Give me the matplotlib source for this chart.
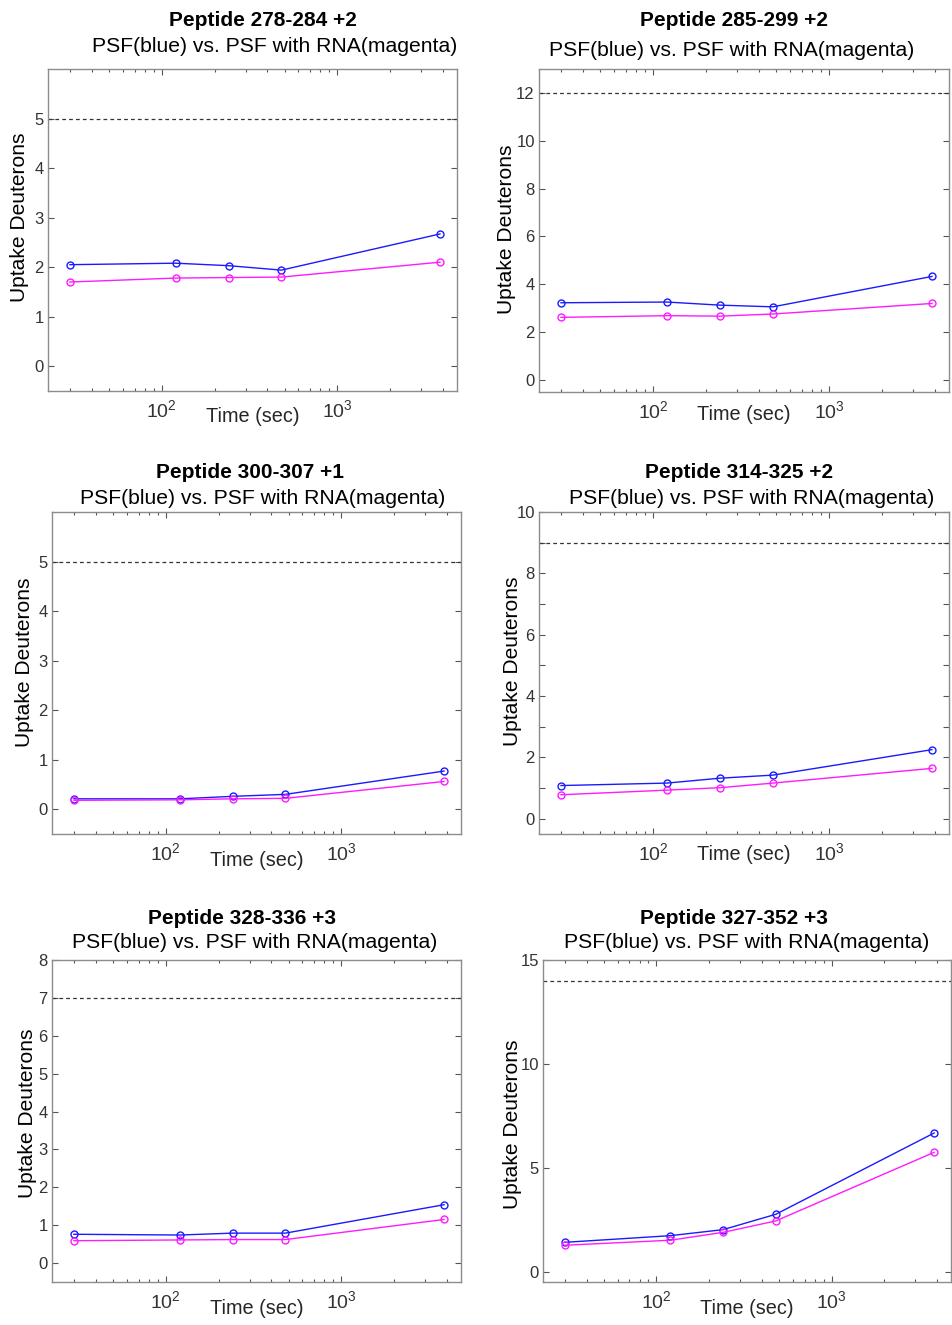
import numpy as np
import matplotlib.pyplot as plt
from matplotlib.ticker import LogLocator, NullFormatter, FixedLocator

plt.rcParams['font.family'] = ['Liberation Sans', 'DejaVu Sans']
plt.rcParams['mathtext.fontset'] = 'custom'
plt.rcParams['mathtext.rm'] = 'Liberation Sans'
plt.rcParams['mathtext.it'] = 'Liberation Sans:italic'
plt.rcParams['mathtext.bf'] = 'Liberation Sans:bold'

# exchange times (sec)
time_sec = [30, 120, 240, 480, 3840]

peptide_names = ['Peptide 278-284 +2', 'Peptide 285-299 +2',
                 'Peptide 300-307 +1', 'Peptide 314-325 +2',
                 'Peptide 328-336 +3', 'Peptide 327-352 +3']
max_deuterons = [5, 12, 5, 9, 7, 14]

psf_uptake = [
    [2.05, 2.08, 2.03, 1.94, 2.67],
    [3.23, 3.26, 3.13, 3.06, 4.33],
    [0.21, 0.21, 0.26, 0.30, 0.77],
    [1.08, 1.16, 1.32, 1.42, 2.25],
    [0.76, 0.74, 0.79, 0.79, 1.54],
    [1.41, 1.73, 2.02, 2.76, 6.67],
]
psf_rna_uptake = [
    [1.70, 1.78, 1.79, 1.80, 2.10],
    [2.62, 2.69, 2.67, 2.76, 3.20],
    [0.18, 0.19, 0.21, 0.22, 0.56],
    [0.78, 0.93, 1.01, 1.16, 1.64],
    [0.59, 0.61, 0.62, 0.62, 1.15],
    [1.27, 1.51, 1.89, 2.44, 5.74],
]

y_tops = [6, 13, 6, 10, 8, 15]
y_ticks = [list(range(0, 6)), list(range(0, 13, 2)), list(range(0, 6)),
           list(range(0, 11)), list(range(0, 9)), [0, 5, 10, 15]]
y_labels = [[str(t) for t in y_ticks[0]],
            [str(t) for t in y_ticks[1]],
            [str(t) for t in y_ticks[2]],
            [str(t) if t % 2 == 0 else '' for t in y_ticks[3]],
            [str(t) for t in y_ticks[4]],
            [str(t) for t in y_ticks[5]]]

subtitle = 'PSF(blue) vs. PSF with RNA(magenta)'

# layout in pixels: axes box (left, top, right, bottom), title offsets
W, H = 952, 1325
boxes = [(48, 69, 457, 391), (539, 69, 949, 392),
         (52, 512, 461, 834), (539, 512, 949, 834),
         (52, 960, 461, 1282), (543, 960, 951, 1282)]
title_dx = [(10, 22), (-10, -12), (-7, 6), (-5, 8), (-15, -2), (-13, 0)]
title_y = [(21, 46), (21, 50), (473, 498), (473, 498), (919, 943), (919, 943)]
ylab_dx = [28, 32, 27, 27, 24, 31]
ylab_dy = [-13, -1, -11, -12, -8, 3]
xlab_dy = [26, 23, 26, 20, 26, 26]

fig = plt.figure(figsize=(W / 100, H / 100), dpi=100)

for i in range(6):
    l, t, r, b = boxes[i]
    ax = fig.add_axes([l / W, 1 - b / H, (r - l) / W, (b - t) / H])

    ax.axhline(max_deuterons[i], color='#333333', lw=0.9, ls=(0, (3, 2.5)))
    ax.plot(time_sec, psf_uptake[i], '-o', color='#1a1aff', lw=1.0,
            ms=5, mfc='none', mew=1.0)
    ax.plot(time_sec, psf_rna_uptake[i], '-o', color='#ff1aff', lw=1.0,
            ms=5, mfc='none', mew=1.0)

    ax.set_xscale('log')
    ax.set_xlim(time_sec[0] * 0.75, time_sec[-1] * 1.25)
    ax.set_ylim(-0.5, y_tops[i])
    ax.xaxis.set_major_locator(FixedLocator([100, 1000]))
    ax.xaxis.set_minor_locator(LogLocator(base=10, subs=np.arange(2, 10)))
    ax.xaxis.set_minor_formatter(NullFormatter())
    ax.set_xticklabels([r'$\mathdefault{10^{2}}$', r'$\mathdefault{10^{3}}$'])
    ax.set_yticks(y_ticks[i])
    ax.set_yticklabels(y_labels[i])

    ax.tick_params(which='both', direction='in', top=True, right=True,
                   color='#555555', width=0.8)
    ax.tick_params(which='major', length=4)
    ax.tick_params(which='minor', length=2.5)
    ax.tick_params(axis='y', labelsize=12, labelcolor='#333333', pad=3)
    ax.tick_params(axis='x', labelsize=14, labelcolor='#333333', pad=6)
    for sp in ax.spines.values():
        sp.set_color('#8c8c8c')
        sp.set_linewidth(1.0)

    cx = (l + r) / 2
    fig.text((cx + title_dx[i][0]) / W, 1 - title_y[i][0] / H, peptide_names[i],
             ha='center', va='center', fontsize=15, fontweight='bold')
    fig.text((cx + title_dx[i][1]) / W, 1 - title_y[i][1] / H, subtitle,
             ha='center', va='center', fontsize=15.2)
    cy = (t + b) / 2
    fig.text((l - ylab_dx[i]) / W, 1 - (cy + ylab_dy[i]) / H, 'Uptake Deuterons',
             ha='center', va='center', rotation=90, fontsize=15.1)
    fig.text(cx / W, 1 - (b + xlab_dy[i]) / H, 'Time (sec)',
             ha='center', va='center', fontsize=14.3, color='#262626')

fig.savefig('out.png', dpi=100, facecolor='white')
